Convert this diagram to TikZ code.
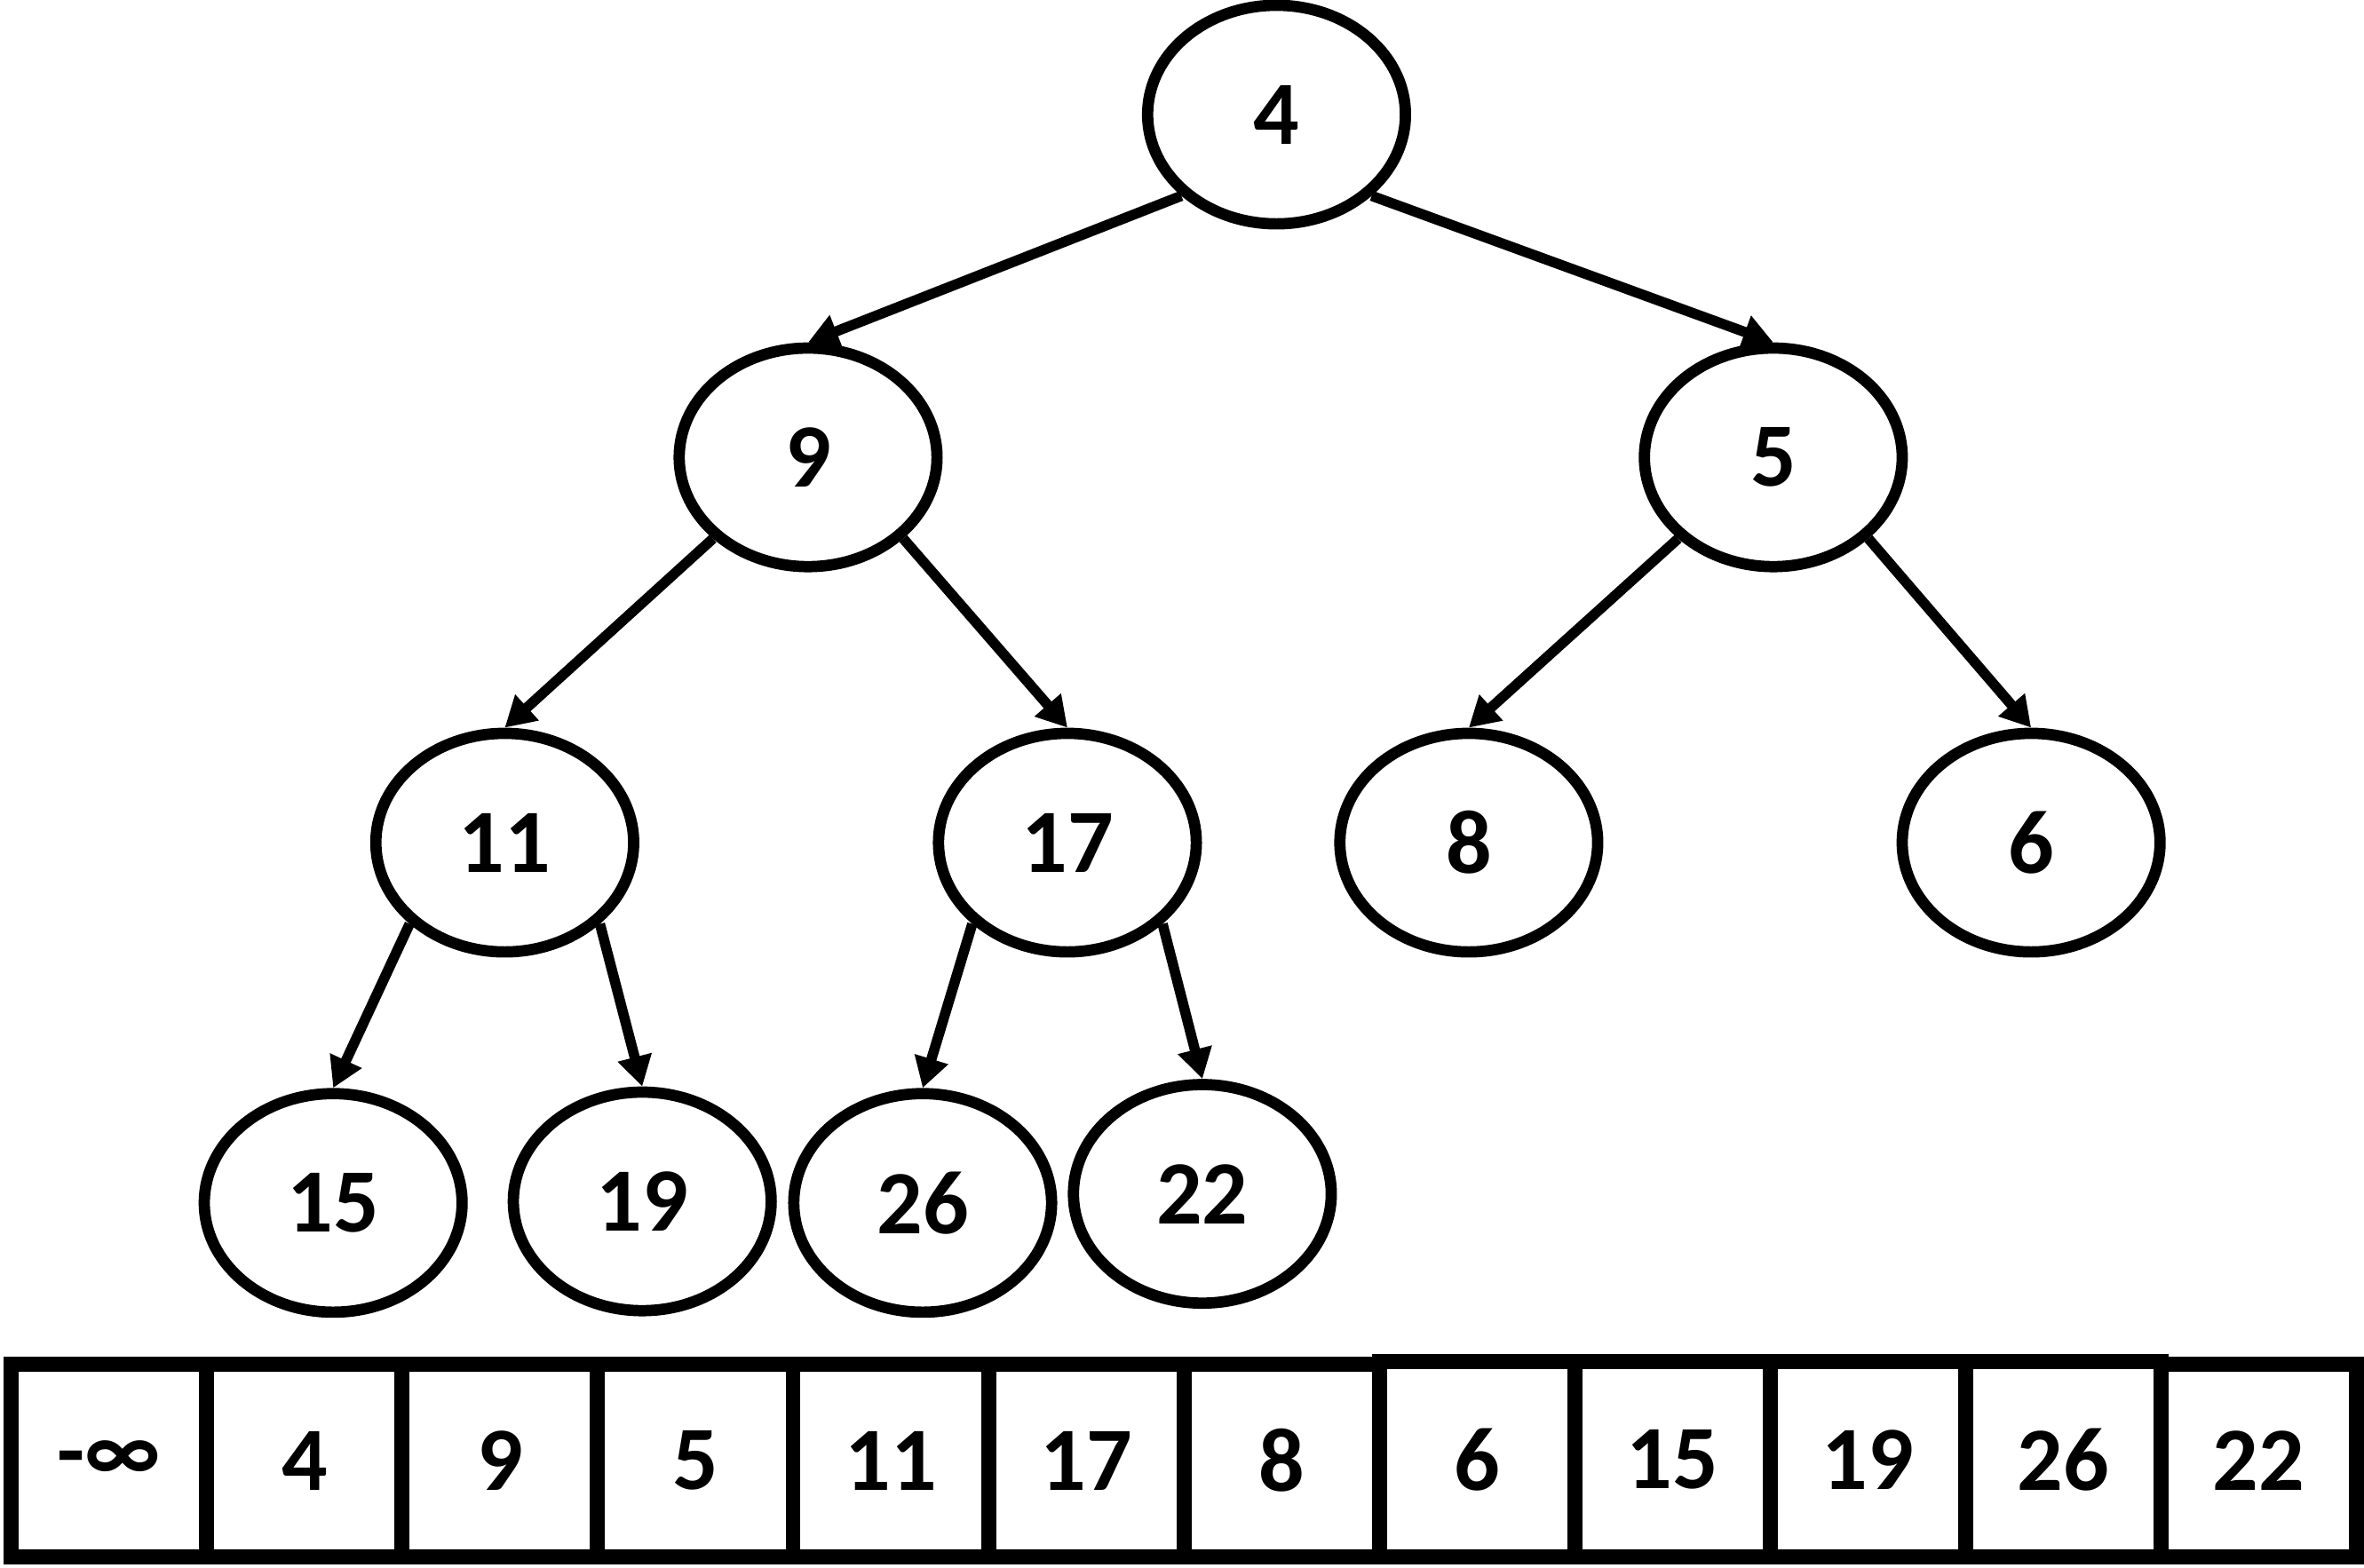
\documentclass[tikz,border=0pt]{standalone}
\usepackage{fontspec}
\setmainfont{Carlito}
\usetikzlibrary{shapes.geometric,arrows.meta}
\begin{document}
\begin{tikzpicture}[x=0.5pt,y=-0.5pt,
  hnode/.style={ellipse,draw,line width=3.75pt,minimum width=85.5pt,minimum height=72.5pt,inner sep=0pt,font=\fontsize{30}{36}\selectfont\bfseries},
  edge/.style={line width=3.4pt,-{Triangle[length=10pt,width=11pt]}},
  cell/.style={draw,line width=5pt,minimum width=64.8pt,minimum height=64pt,inner sep=0pt,font=\fontsize{30}{36}\selectfont\bfseries},
  tcell/.style={cell,minimum height=64.75pt}
]
\useasboundingbox (0,0) rectangle (1568,1040.2);
% tree
\node[hnode] (r)  at (846.7,76) {4};
\node[hnode] (a)  at (536,303.4) {9};
\node[hnode] (b)  at (1176.2,303.4) {5};
\node[hnode] (c)  at (334.8,559) {11};
\node[hnode] (d)  at (708,559) {17};
\node[hnode] (e)  at (974.2,559) {8};
\node[hnode] (f)  at (1347.2,559) {6};
\node[hnode] (g)  at (221,798) {15};
\node[hnode] (h)  at (426,797) {19};
\node[hnode] (i)  at (612,798) {26};
\node[hnode] (j)  at (797.5,792) {22};
\draw[edge] (r.south west) -- (a.north);
\draw[edge] (r.south east) -- (b.north);
\draw[edge] (a.south west) -- (c.north);
\draw[edge] (a.south east) -- (d.north);
\draw[edge] (b.south west) -- (e.north);
\draw[edge] (b.south east) -- (f.north);
\draw[edge] (c.south west) -- (g.north);
\draw[edge] (c.south east) -- (h.north);
\draw[edge] (d.south west) -- (i.north);
\draw[edge] (d.south east) -- (j.north);
% array
\node[cell]  (k0)  at (72.4,969)    {-∞};
\node[cell]  (k1)  at (202,969)     {4};
\node[cell]  (k2)  at (331.6,969)   {9};
\node[cell]  (k3)  at (461.2,969)   {5};
\node[cell]  (k4)  at (590.8,969)   {11};
\node[cell]  (k5)  at (720.4,969)   {17};
\node[cell]  (k6)  at (850,969)     {8};
\node[tcell] (k7)  at (979.6,968.25)  {6};
\node[tcell] (k8)  at (1109.2,968.25) {15};
\node[tcell] (k9)  at (1238.8,968.25) {19};
\node[tcell] (k10) at (1368.4,968.25) {26};
\node[cell]  (k11) at (1498,969)    {22};
\end{tikzpicture}
\end{document}
